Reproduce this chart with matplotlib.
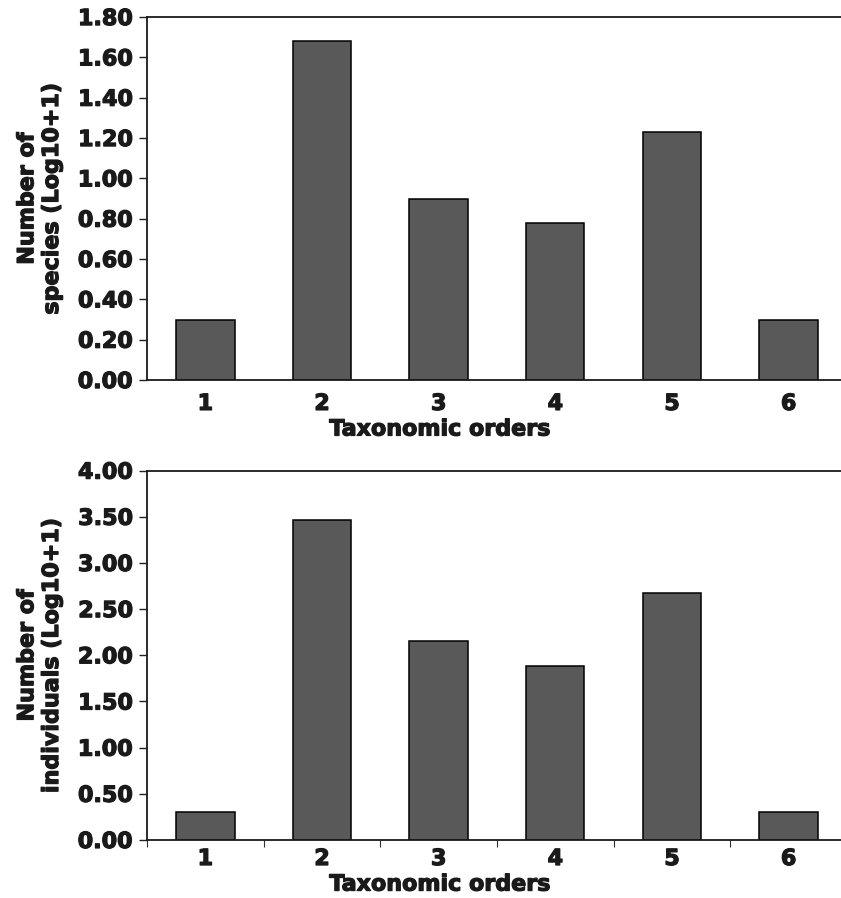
import matplotlib
matplotlib.use('Agg')
import matplotlib.pyplot as plt
import matplotlib.patheffects as pe
from matplotlib.ticker import FixedLocator, FormatStrFormatter

# data
orders = [1, 2, 3, 4, 5, 6]
species_log = [0.30, 1.68, 0.90, 0.78, 1.23, 0.30]
individuals_log = [0.30, 3.47, 2.15, 1.88, 2.68, 0.30]

species_ticks = [0.0, 0.2, 0.4, 0.6, 0.8, 1.0, 1.2, 1.4, 1.6, 1.8]
individuals_ticks = [0.0, 0.5, 1.0, 1.5, 2.0, 2.5, 3.0, 3.5, 4.0]

BAR_COLOR = '#595959'
TEXT_COLOR = '#1a1a1a'
FONT = {'family': 'DejaVu Sans', 'weight': 'bold', 'size': 16}
# thicken the bold glyphs a little, the scan uses a very heavy face
HEAVY = [pe.withStroke(linewidth=0.9, foreground=TEXT_COLOR)]

plt.rcParams['font.family'] = 'DejaVu Sans'
plt.rcParams['font.weight'] = 'bold'

fig = plt.figure(figsize=(8.41, 8.98), dpi=100)

# axes run slightly past the right edge of the figure, like the scan
ax1 = fig.add_axes([0.1748, 0.5768, 0.8323, 0.4042])
ax2 = fig.add_axes([0.1748, 0.0646, 0.8323, 0.4113])


def style_axes(ax, values, yticks, ylabel, x_ticks_visible):
    ax.bar(orders, values, width=0.5, color=BAR_COLOR, edgecolor='black',
           linewidth=1.1, zorder=2)
    ax.set_xlim(0.5, 6.5)
    ax.set_ylim(yticks[0], yticks[-1])
    ax.set_yticks(yticks)
    ax.yaxis.set_major_formatter(FormatStrFormatter('%.2f'))
    ax.set_xticks(orders)
    ax.set_xticklabels([str(o) for o in orders], fontdict=FONT)
    for lbl in ax.get_yticklabels():
        lbl.set_fontsize(16)
        lbl.set_fontweight('bold')
    ax.tick_params(axis='y', direction='out', length=5.8, width=1.0,
                   pad=4.3, colors='#222222', labelcolor=TEXT_COLOR)
    if x_ticks_visible:
        ax.tick_params(axis='x', which='major', length=0, pad=6.5,
                       labelcolor=TEXT_COLOR)
        ax.xaxis.set_minor_locator(FixedLocator([0.5, 1.5, 2.5, 3.5, 4.5, 5.5, 6.5]))
        ax.tick_params(axis='x', which='minor', direction='out', length=5,
                       width=0.8, colors='#333333')
    else:
        ax.tick_params(axis='x', which='major', length=0, pad=10,
                       labelcolor=TEXT_COLOR)
    for side in ['left', 'bottom', 'top', 'right']:
        ax.spines[side].set_linewidth(1.3)
        ax.spines[side].set_color(TEXT_COLOR)
    ax.set_xlabel('Taxonomic orders', fontdict=FONT, labelpad=4,
                  color=TEXT_COLOR)
    # the x label sits left of the axes centre in the reference
    ax.xaxis.label.set_x(0.419)
    ax.set_ylabel(ylabel, fontdict=FONT, linespacing=1.3, color=TEXT_COLOR)
    ax.yaxis.set_label_coords(-0.1214, 0.5)
    for txt in (ax.get_xticklabels() + ax.get_yticklabels()
                + [ax.xaxis.label, ax.yaxis.label]):
        txt.set_path_effects(HEAVY)


style_axes(ax1, species_log, species_ticks,
           'Number of\nspecies (Log10+1)', False)
style_axes(ax2, individuals_log, individuals_ticks,
           'Number of\nindividuals (Log10+1)', True)

fig.savefig('out.png', dpi=100)
